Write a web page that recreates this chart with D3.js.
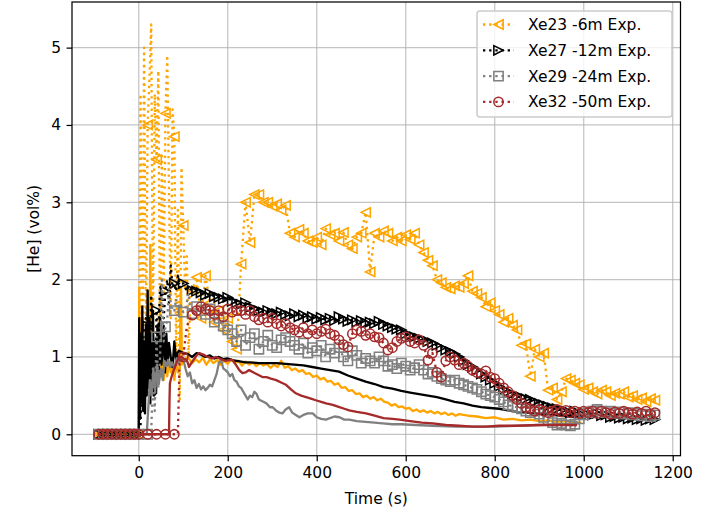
<!DOCTYPE html>
<html>
<head>
<meta charset="utf-8">
<script src="https://cdn.jsdelivr.net/npm/d3@7"></script>
<style>
  body { margin: 0; background: #fff; }
  svg { display: block; }
  text { font-family: "DejaVu Sans", sans-serif; }
</style>
</head>
<body>
<svg id="chart" width="704" height="513"></svg>
<script>
// ---- Measurement time base shared by the four gas samplers (s) ----
const expTime = [
  -90, -80, -70, -60, -50, -40, -30, -20, -10, 0,
  4, 8, 12, 16, 20, 24, 28, 32, 36, 40, 44, 48, 52, 56, 60, 64, 68, 72, 76, 80,
  84, 88, 92, 96, 100, 104, 108, 112, 116, 120,
  130, 140, 150, 160, 170, 180, 190, 200, 210, 220,
  230, 240, 250, 260, 270, 280, 290, 300, 310, 320,
  330, 340, 350, 360, 370, 380, 390, 400, 410, 420,
  430, 440, 450, 460, 470, 480, 490, 500, 510, 520,
  530, 540, 550, 560, 570, 580, 590, 600, 610, 620,
  630, 640, 650, 660, 670, 680, 690, 700, 710, 720,
  730, 740, 750, 760, 770, 780, 790, 800, 810, 820,
  830, 840, 850, 860, 870, 880, 890, 900, 910, 920,
  930, 940, 950, 960, 970, 980, 990, 1000, 1010, 1020,
  1030, 1040, 1050, 1060, 1070, 1080, 1090, 1100, 1110, 1120,
  1130, 1140, 1150, 1160
];

// ---- Measured helium concentration (vol%) ----
const xe23Exp = [
  0, 0, 0, 0, 0, 0, 0, 0, 0, 0,
  4.4, 0.5, 5.0, 1.0, 4.0, 4.6, 5.3, 1.3, 4.4, 3.55, 4.7, 0.9, 3.6, 1.8, 4.15, 4.9, 3.1, 1.5, 4.2, 3.85,
  1.0, 2.9, 0.45, 3.45, 2.7, 1.9, 2.3, 1.0, 1.8, 1.86,
  2.03, 1.5, 2.05, 1.7, 1.45, 1.6, 1.35, 1.5, 1.2, 1.1,
  2.2, 3.0, 2.48, 3.1, 3.1, 3.0, 3.0, 2.95, 2.98, 2.9,
  2.96, 2.6, 2.55, 2.65, 2.6, 2.5, 2.48, 2.55, 2.45, 2.66,
  2.58, 2.6, 2.5, 2.61, 2.45, 2.4, 2.55, 2.6, 2.87, 2.1,
  2.6, 2.55, 2.63, 2.6, 2.5, 2.55, 2.5, 2.58, 2.52, 2.6,
  2.45, 2.35, 2.25, 2.18, 2.0, 1.96, 1.9, 1.88, 1.92, 1.9,
  1.95, 2.05, 1.85, 1.82, 1.77, 1.65, 1.7, 1.6, 1.55, 1.45,
  1.5, 1.41, 1.35, 1.15, 1.17, 0.75, 1.1, 1.0, 1.05, 0.57,
  0.6, 0.45, 0.55, 0.72, 0.7, 0.66, 0.64, 0.58, 0.6, 0.55,
  0.52, 0.57, 0.55, 0.5, 0.53, 0.52, 0.55, 0.48, 0.5, 0.45,
  0.47, 0.42, 0.46, 0.44
];
const xe27Exp = [
  0, 0, 0, 0, 0, 0, 0, 0, 0, 0,
  0.1, 1.45, 0.3, 1.5, 1.4, 0.6, 1.8, 1.2, 0.5, 1.6, 1.3, 1.9, 1.86, 1.5, 1.85, 2.0, 1.7, 2.18, 1.9, 1.95,
  1.85, 2.05, 1.9, 1.95, 1.95, 1.9, 1.85, 1.92, 1.88, 1.86,
  1.85, 1.83, 1.8, 1.82, 1.78, 1.77, 1.75, 1.77, 1.72, 1.7,
  1.68, 1.7, 1.64, 1.62, 1.6, 1.58, 1.6, 1.57, 1.56, 1.58,
  1.55, 1.53, 1.56, 1.52, 1.54, 1.5, 1.52, 1.49, 1.51, 1.48,
  1.5, 1.47, 1.52, 1.49, 1.46, 1.48, 1.45, 1.47, 1.44, 1.45,
  1.43, 1.46, 1.42, 1.4, 1.38, 1.36, 1.35, 1.3, 1.28, 1.26,
  1.24, 1.22, 1.2, 1.18, 1.15, 1.12, 1.09, 1.07, 1.04, 1.0,
  0.95, 0.9, 0.87, 0.83, 0.78, 0.74, 0.7, 0.66, 0.62, 0.58,
  0.55, 0.52, 0.5, 0.48, 0.46, 0.45, 0.42, 0.4, 0.38, 0.36,
  0.34, 0.33, 0.31, 0.3, 0.28, 0.3, 0.27, 0.28, 0.26, 0.25,
  0.27, 0.24, 0.25, 0.22, 0.23, 0.21, 0.22, 0.2, 0.21, 0.19,
  0.2, 0.18, 0.2, 0.19
];
const xe29Exp = [
  0, 0, 0, 0, 0, 0, 0, 0, 0, 0,
  0, 0, 0, 0, 0, 0, 0, 0.85, 0.3, 1.26, 0.6, 1.0, 2.0, 1.2, 1.39, 1.47, 1.9, 1.6, 1.65, 1.6,
  1.75, 1.58, 1.7, 1.65, 1.58, 1.62, 1.7, 1.82, 1.6, 1.56,
  1.65, 1.6, 1.55, 1.62, 1.45, 1.5, 1.4, 1.35, 1.3, 1.2,
  1.35, 1.15, 1.25, 1.3, 1.1, 1.2, 1.28, 1.15, 1.12, 1.22,
  1.25, 1.2, 1.15, 1.1, 1.18, 1.05, 1.12, 1.08, 1.15, 1.0,
  1.1, 1.05, 1.12, 1.0, 0.95, 1.08, 1.02, 0.92, 0.98, 0.95,
  0.92, 1.0, 0.95, 0.88, 0.9, 0.85, 0.92, 0.88, 0.83, 0.86,
  0.9, 0.83, 0.78, 0.8, 0.75, 0.72, 0.7, 0.68, 0.7, 0.66,
  0.64, 0.62, 0.6, 0.58, 0.55, 0.52, 0.5, 0.48, 0.45, 0.42,
  0.38, 0.36, 0.35, 0.33, 0.3, 0.28, 0.3, 0.26, 0.22, 0.18,
  0.15, 0.12, 0.14, 0.12, 0.11, 0.13, 0.2, 0.25, 0.28, 0.3,
  0.32, 0.3, 0.28, 0.3, 0.27, 0.29, 0.26, 0.28, 0.25, 0.27,
  0.24, 0.26, 0.23, 0.25
];
const xe32Exp = [
  0, 0, 0, 0, 0, 0, 0, 0, 0, 0,
  0, 0, 0, 0, 0, 0, 0, 0, 0, 0, 0, 0, 0, 0, 0, 0, 0, 0, 0, 0,
  0, 0, 1.0, 0.95, 1.0, 1.2, 1.39, 1.45, 1.5, 1.54,
  1.6, 1.65, 1.62, 1.6, 1.55, 1.6, 1.52, 1.62, 1.58, 1.6,
  1.6, 1.55, 1.6, 1.52, 1.48, 1.5, 1.45, 1.5, 1.43, 1.4,
  1.43, 1.38, 1.35, 1.32, 1.38, 1.3, 1.35, 1.3, 1.33, 1.36,
  1.3, 1.28, 1.22, 1.16, 1.13, 1.3, 1.35, 1.33, 1.28, 1.3,
  1.26, 1.25, 1.18, 1.09, 1.12, 1.2, 1.24, 1.26, 1.2, 1.18,
  1.22, 1.15, 0.96, 1.05, 0.8, 0.74, 0.95, 1.0, 0.96, 0.9,
  0.92, 0.88, 0.83, 0.8, 0.78, 0.82, 0.74, 0.72, 0.66, 0.6,
  0.55, 0.5, 0.45, 0.4, 0.35, 0.33, 0.3, 0.32, 0.3, 0.28,
  0.3, 0.32, 0.29, 0.31, 0.28, 0.3, 0.27, 0.3, 0.28, 0.3,
  0.27, 0.3, 0.28, 0.26, 0.29, 0.27, 0.3, 0.28, 0.26, 0.29,
  0.27, 0.3, 0.26, 0.28
];

// ---- Simulated helium concentration, [time (s), vol%] ----
const xe23Sim = [
  [0, 0], [1, 1.9], [3, 0.6], [5, 1.5], [7, 0.7], [9, 1.2], [12, 0.8], [15, 1.1], [18, 0.7], [21, 1.0],
  [24, 0.8], [26, 2.45], [28, 0.9], [31, 1.1], [34, 0.7], [37, 0.95], [40, 0.8], [43, 1.0], [46, 0.75], [48, 1.8],
  [50, 0.85], [53, 0.95], [56, 0.7], [60, 0.9], [64, 0.75], [68, 0.95], [72, 0.8], [76, 0.9], [80, 0.7], [84, 0.95],
  [88, 0.8], [92, 0.85], [95, 1.9], [97, 0.9], [100, 0.95], [110, 1.0],
  [120, 0.92], [128, 0.97], [136, 0.93], [144, 0.99], [152, 0.9], [160, 0.97], [168, 0.92], [176, 0.96], [184, 0.9], [192, 0.95],
  [200, 0.91], [208, 0.97], [216, 0.92], [224, 0.95], [232, 0.89], [240, 0.94], [248, 0.9], [256, 0.93], [264, 0.88], [272, 0.92],
  [280, 0.89], [288, 0.91], [296, 0.86], [304, 0.9], [312, 0.87], [320, 0.95], [328, 0.86], [336, 0.88], [344, 0.83], [352, 0.85],
  [360, 0.81], [368, 0.83], [376, 0.78], [384, 0.79], [392, 0.74], [400, 0.76], [408, 0.71], [416, 0.73], [424, 0.68], [432, 0.69],
  [440, 0.64], [448, 0.66], [456, 0.6], [464, 0.61], [472, 0.56], [480, 0.57], [488, 0.52], [496, 0.53], [504, 0.48], [512, 0.5],
  [520, 0.46], [528, 0.48], [536, 0.44], [544, 0.46], [552, 0.42], [560, 0.41], [568, 0.37], [576, 0.39], [584, 0.35], [592, 0.36],
  [600, 0.33], [608, 0.34], [616, 0.3], [624, 0.32], [632, 0.29], [640, 0.31], [648, 0.28], [656, 0.3], [664, 0.27], [672, 0.29],
  [680, 0.26], [688, 0.28], [696, 0.25], [704, 0.27], [712, 0.24], [720, 0.26], [740, 0.24], [760, 0.23], [780, 0.21], [800, 0.22],
  [820, 0.19], [840, 0.2], [860, 0.18], [880, 0.19], [900, 0.17], [920, 0.18], [940, 0.16], [960, 0.17], [980, 0.15], [995, 0.15]
];
const xe27Sim = [
  [0, 0.05], [1, 1.5], [3, 0.2], [5, 1.3], [7, 0.4], [8, 1.65], [10, 0.3], [12, 1.2], [14, 0.27], [16, 1.4],
  [18, 0.5], [20, 1.86], [22, 0.6], [24, 1.5], [26, 0.4], [28, 1.3], [30, 0.7], [32, 1.6], [34, 0.5], [36, 1.2],
  [39, 0.53], [42, 1.4], [45, 0.8], [48, 1.5], [51, 0.9], [53, 1.05], [56, 1.4], [59, 0.8], [62, 1.3], [65, 0.9],
  [68, 1.18], [72, 1.0], [76, 0.87], [80, 1.2], [84, 0.95], [87, 1.05], [90, 1.08], [100, 1.05], [110, 1.04], [120, 1.0],
  [130, 1.05], [140, 1.03], [150, 1.0], [160, 1.02], [170, 0.98], [180, 1.0], [190, 0.97], [200, 0.98], [210, 0.96], [220, 0.95],
  [230, 0.94], [240, 0.93], [250, 0.93], [270, 0.92], [290, 0.92], [310, 0.92], [330, 0.91], [350, 0.9], [370, 0.89], [390, 0.87],
  [410, 0.85], [430, 0.83], [450, 0.81], [470, 0.76], [490, 0.72], [510, 0.68], [530, 0.65], [550, 0.61], [570, 0.59], [590, 0.56],
  [610, 0.54], [630, 0.52], [650, 0.5], [670, 0.48], [690, 0.45], [710, 0.42], [730, 0.4], [750, 0.37], [770, 0.35], [790, 0.34],
  [810, 0.33], [830, 0.31], [850, 0.29], [870, 0.28], [890, 0.27], [910, 0.26], [930, 0.25], [950, 0.24], [970, 0.23], [990, 0.22],
  [1000, 0.22]
];
const xe29Sim = [
  [0, 0], [18, 0], [21, 0.3], [25, 0.7], [29, 0.5], [33, 0.85], [37, 0.57], [41, 0.9], [45, 0.65], [50, 0.85],
  [54, 0.7], [58, 0.95], [62, 0.88], [66, 0.96], [70, 0.87], [75, 0.93], [80, 0.85], [85, 0.98], [90, 0.92], [95, 1.0],
  [100, 0.98], [105, 0.85], [110, 0.75], [115, 0.8], [120, 0.66], [125, 0.7], [130, 0.6], [135, 0.65], [140, 0.58], [145, 0.62],
  [150, 0.57], [155, 0.6], [160, 0.64], [165, 0.62], [170, 0.7], [175, 0.78], [180, 0.92], [185, 0.96], [190, 0.85], [195, 0.83],
  [200, 0.8], [205, 0.75], [210, 0.78], [215, 0.7], [220, 0.68], [225, 0.62], [230, 0.6], [235, 0.55], [240, 0.5], [245, 0.45],
  [250, 0.5], [255, 0.48], [260, 0.55], [265, 0.52], [270, 0.45], [280, 0.42], [287, 0.4], [295, 0.35], [301, 0.35], [310, 0.3],
  [316, 0.28], [323, 0.27], [330, 0.32], [338, 0.35], [345, 0.28], [353, 0.25], [361, 0.22], [370, 0.25], [380, 0.27], [391, 0.27],
  [400, 0.22], [410, 0.2], [421, 0.19], [430, 0.21], [440, 0.23], [451, 0.22], [462, 0.19], [473, 0.19], [490, 0.17], [510, 0.16],
  [530, 0.15], [548, 0.14], [570, 0.13], [590, 0.13], [623, 0.12], [660, 0.11], [713, 0.1], [760, 0.1], [800, 0.1], [850, 0.11],
  [900, 0.12], [950, 0.13], [990, 0.14]
];
const xe32Sim = [
  [0, 0], [68, 0], [69, 0.4], [70, 0.66], [74, 0.75], [78, 0.82], [82, 0.88], [86, 0.94], [91, 1.0], [96, 1.0],
  [100, 0.98], [106, 0.97], [110, 0.93], [113, 0.87], [118, 0.92], [124, 0.97], [130, 1.02], [136, 1.05], [145, 1.03], [155, 1.0],
  [165, 0.98], [174, 1.0], [185, 0.97], [195, 0.95], [205, 0.96], [211, 0.96], [218, 0.9], [226, 0.83], [233, 0.79], [240, 0.8],
  [248, 0.83], [258, 0.8], [268, 0.77], [278, 0.74], [287, 0.74], [297, 0.72], [309, 0.7], [320, 0.67], [331, 0.64], [342, 0.58],
  [353, 0.53], [365, 0.5], [376, 0.48], [387, 0.46], [398, 0.44], [410, 0.42], [421, 0.4], [436, 0.38], [451, 0.35], [462, 0.33],
  [473, 0.31], [490, 0.29], [511, 0.27], [530, 0.24], [550, 0.21], [570, 0.2], [586, 0.19], [610, 0.17], [636, 0.15], [661, 0.14],
  [690, 0.12], [720, 0.11], [750, 0.1], [780, 0.1], [810, 0.11], [850, 0.11], [900, 0.12], [950, 0.12], [985, 0.12]
];

// ---- Axis ticks and legend labels ----
const xTicks = [0, 200, 400, 600, 800, 1000, 1200];
const yTicks = [0, 1, 2, 3, 4, 5];
const seriesLabels = ["Xe23 -6m Exp.", "Xe27 -12m Exp.", "Xe29 -24m Exp.", "Xe32 -50m Exp."];

// ---- Styling ----
const PT = 1.55;                       // px per typographic point
const FONT = 10 * PT;
const LW = 1.5 * PT;
const MS = 6 * PT;
const MEW = 1 * PT;
const DOT = [LW * 1, LW * 1.65];

const series = [
  { label: seriesLabels[0], color: "#ffa500", marker: "tl", exp: xe23Exp, sim: xe23Sim },
  { label: seriesLabels[1], color: "#000000", marker: "tr", exp: xe27Exp, sim: xe27Sim },
  { label: seriesLabels[2], color: "#808080", marker: "sq", exp: xe29Exp, sim: xe29Sim },
  { label: seriesLabels[3], color: "#a52a2a", marker: "ci", exp: xe32Exp, sim: xe32Sim }
];

const svg = d3.select("#chart");
const plot = { left: 72, right: 680.5, top: 2, bottom: 455.7 };

const x = d3.scaleLinear().domain([-150, 1217.5]).range([plot.left, plot.right]);
const y = d3.scaleLinear().domain([-0.277, 5.59]).range([plot.bottom, plot.top]);

// grid
const grid = svg.append("g");
grid.selectAll("line.gx").data(xTicks).join("line")
  .attr("x1", d => x(d)).attr("x2", d => x(d))
  .attr("y1", plot.top).attr("y2", plot.bottom)
  .attr("stroke", "#b0b0b0").attr("stroke-opacity", 0.75).attr("stroke-width", 0.8 * PT);
grid.selectAll("line.gy").data(yTicks).join("line")
  .attr("y1", d => y(d)).attr("y2", d => y(d))
  .attr("x1", plot.left).attr("x2", plot.right)
  .attr("stroke", "#b0b0b0").attr("stroke-opacity", 0.75).attr("stroke-width", 0.8 * PT);

svg.append("clipPath").attr("id", "plotclip").append("rect")
  .attr("x", plot.left).attr("y", plot.top)
  .attr("width", plot.right - plot.left).attr("height", plot.bottom - plot.top);

function markerPath(kind, r) {
  if (kind === "tl") return `M${-r},0L${r},${-r}L${r},${r}Z`;
  if (kind === "tr") return `M${r},0L${-r},${-r}L${-r},${r}Z`;
  if (kind === "sq") return `M${-r},${-r}H${r}V${r}H${-r}Z`;
  return d3.path().toString();
}

function drawMarker(sel, kind, color) {
  const r = MS / 2;
  if (kind === "ci") {
    sel.append("circle").attr("r", r)
      .attr("fill", "none").attr("stroke", color).attr("stroke-width", MEW);
  } else {
    sel.append("path").attr("d", markerPath(kind, r))
      .attr("fill", "none").attr("stroke", color).attr("stroke-width", MEW)
      .attr("stroke-linejoin", "miter");
  }
}

const dataLayer = svg.append("g").attr("clip-path", "url(#plotclip)");
const lineGen = d3.line().x(d => x(d[0])).y(d => y(d[1]));

series.forEach(s => {
  const pts = expTime.map((t, i) => [t, s.exp[i]]);
  // measured: dotted line with hollow markers every 10 s
  dataLayer.append("path").datum(pts)
    .attr("d", lineGen)
    .attr("fill", "none").attr("stroke", s.color)
    .attr("stroke-width", LW).attr("stroke-dasharray", DOT.join(","))
    .attr("stroke-linejoin", "round");
  const mk = pts.filter(p => p[0] % 10 === 0);
  mk.forEach(p => {
    const g = dataLayer.append("g").attr("transform", `translate(${x(p[0])},${y(p[1])})`);
    drawMarker(g, s.marker, s.color);
  });
  // simulation: solid line
  dataLayer.append("path").datum(s.sim)
    .attr("d", lineGen)
    .attr("fill", "none").attr("stroke", s.color)
    .attr("stroke-width", LW).attr("stroke-linejoin", "round");
});

// axes
const xAxis = svg.append("g").attr("transform", `translate(0,${plot.bottom})`)
  .call(d3.axisBottom(x).tickValues(xTicks).tickFormat(d3.format("d"))
    .tickSize(3.5 * PT).tickPadding(3.5 * PT));
const yAxis = svg.append("g").attr("transform", `translate(${plot.left},0)`)
  .call(d3.axisLeft(y).tickValues(yTicks).tickFormat(d3.format("d"))
    .tickSize(3.5 * PT).tickPadding(3.5 * PT));
[xAxis, yAxis].forEach(a => {
  a.select(".domain").remove();
  a.selectAll(".tick line").attr("stroke", "#000").attr("stroke-width", 0.8 * PT);
  a.selectAll(".tick text").attr("font-family", "DejaVu Sans").attr("font-size", FONT).attr("fill", "#000");
});

// spines
svg.append("rect")
  .attr("x", plot.left).attr("y", plot.top)
  .attr("width", plot.right - plot.left).attr("height", plot.bottom - plot.top)
  .attr("fill", "none").attr("stroke", "#000").attr("stroke-width", 0.8 * PT);

// axis labels
svg.append("text")
  .attr("x", (plot.left + plot.right) / 2).attr("y", 503.5)
  .attr("text-anchor", "middle").attr("font-size", FONT).attr("fill", "#000")
  .text("Time (s)");
svg.append("text")
  .attr("transform", `translate(39,${(plot.top + plot.bottom) / 2}) rotate(-90)`)
  .attr("text-anchor", "middle").attr("font-size", FONT).attr("fill", "#000")
  .text("[He] (vol%)");

// legend
const leg = svg.append("g");
const legBox = { x: 477, y: 11, w: 195, h: 106 };
leg.append("rect")
  .attr("x", legBox.x).attr("y", legBox.y).attr("width", legBox.w).attr("height", legBox.h)
  .attr("rx", 3).attr("ry", 3)
  .attr("fill", "#fff").attr("fill-opacity", 0.8)
  .attr("stroke", "#cccccc").attr("stroke-width", 1 * PT);
series.forEach((s, i) => {
  const cy = 24.5 + i * 25.8;
  const g = leg.append("g").attr("transform", `translate(0,${cy})`);
  g.append("line").attr("x1", 483).attr("x2", 514).attr("y1", 0).attr("y2", 0)
    .attr("stroke", s.color).attr("stroke-width", LW).attr("stroke-dasharray", DOT.join(","));
  const m = g.append("g").attr("transform", "translate(498.5,0)");
  drawMarker(m, s.marker, s.color);
  g.append("text").attr("x", 528).attr("y", 0).attr("dy", "0.36em")
    .attr("font-size", FONT).attr("fill", "#000").text(s.label);
});
</script>
</body>
</html>
